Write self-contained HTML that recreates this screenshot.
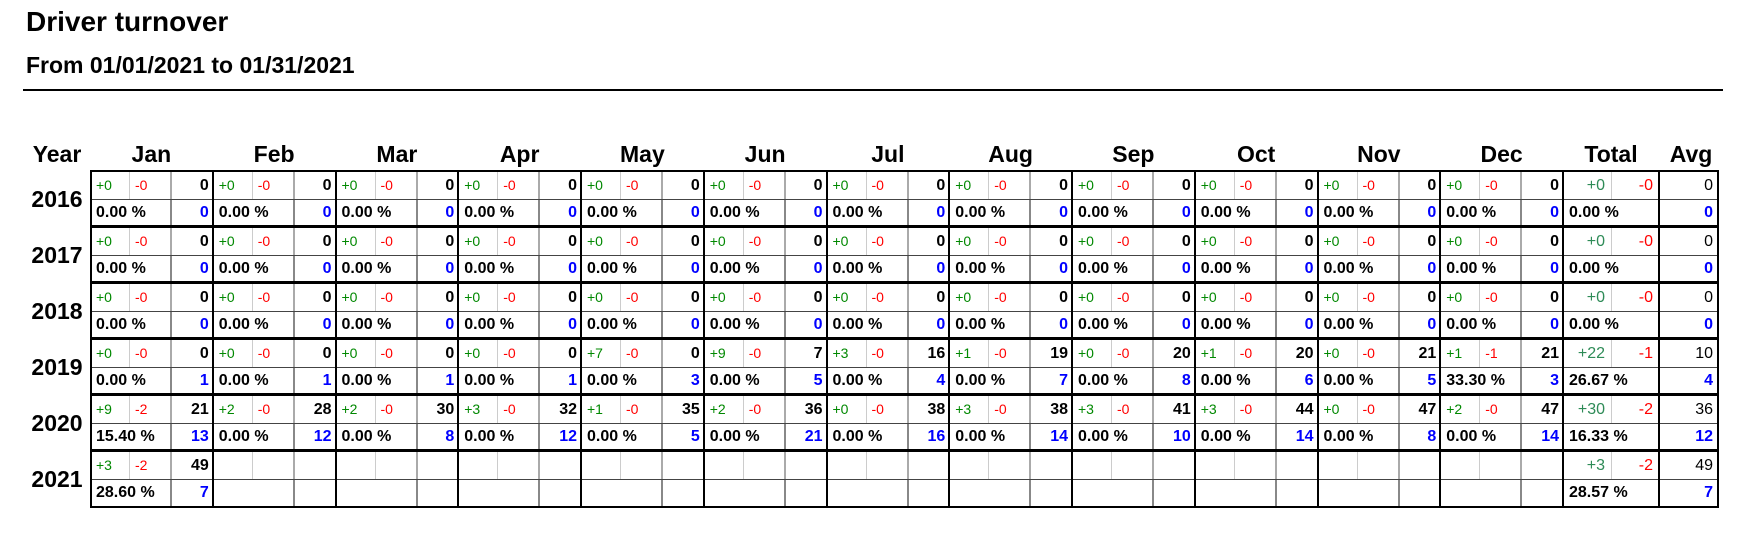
<!DOCTYPE html>
<html><head><meta charset="utf-8"><style>
*{margin:0;padding:0;box-sizing:border-box}
html,body{width:1740px;height:534px;background:#fff;overflow:hidden}
body{position:relative;font-family:"Liberation Sans",Arial,sans-serif;color:#000}
.ttl{position:absolute;left:26px;top:6px;font-size:28px;font-weight:bold;line-height:32px;white-space:nowrap}
.sub{position:absolute;left:26px;top:51px;font-size:23px;font-weight:bold;line-height:28px;white-space:nowrap}
.rule{position:absolute;left:23px;top:89px;width:1700px;height:2px;background:#000}
.h{position:absolute;top:140px;height:28px;line-height:28px;font-size:23px;font-weight:bold;text-align:center;white-space:nowrap}
.yl{position:absolute;left:24px;width:66px;height:56px;line-height:56px;font-size:23px;font-weight:bold;text-align:center}
.y{position:absolute;left:90px;height:56px;display:flex}
.m{flex:none;width:122.75px;height:56px;display:grid;grid-template-columns:40px 40px 42.75px;grid-template-rows:28px 28px}
.t{flex:none;width:96px;height:56px;display:grid;grid-template-columns:49px 47px;grid-template-rows:28px 28px}
.a{flex:none;width:58px;height:56px;display:grid;grid-template-columns:58px;grid-template-rows:28px 28px}
.y i,.y b{display:block;font-style:normal;white-space:nowrap;overflow:hidden}
.p{color:#080;font-size:14px;line-height:29px;padding-left:6px;border-right:1px solid #ccc}
.n{color:#f00;font-size:14px;line-height:29px;padding-left:5px}
.c{font-weight:bold;font-size:16px;line-height:29px;text-align:right;padding-right:4px;border-left:2px solid #aaa}
.r{grid-column:span 2;font-weight:bold;font-size:16px;line-height:28px;padding-left:6px}
.b{color:#00f;font-weight:bold;font-size:16px;line-height:28px;text-align:right;padding-right:4px;border-left:2px solid #888}
.tp{color:#2e8b57;font-size:16px;line-height:29px;text-align:right;padding-right:6px;border-right:1px solid #ccc}
.tn{color:#f00;font-size:16px;line-height:29px;text-align:right;padding-right:6px}
.tr{grid-column:span 2;font-weight:bold;font-size:16px;line-height:28px;padding-left:6px}
.av{font-size:16px;line-height:29px;text-align:right;padding-right:4px}
.ab{color:#00f;font-weight:bold;font-size:16px;line-height:28px;text-align:right;padding-right:4px}
.hl{position:absolute;left:90px;width:1629px;background:#000}
.ml{position:absolute;left:90px;width:1629px;height:1px;background:#444}
.vl{position:absolute;top:170px;height:338px;width:2px;background:#000}
</style></head><body>
<div class="ttl">Driver turnover</div>
<div class="sub">From 01/01/2021 to 01/31/2021</div>
<div class="rule"></div>

<div class="h" style="left:24px;width:66px">Year</div>
<div class="h" style="left:90px;width:122.75px">Jan</div>
<div class="h" style="left:212.75px;width:122.75px">Feb</div>
<div class="h" style="left:335.5px;width:122.75px">Mar</div>
<div class="h" style="left:458.25px;width:122.75px">Apr</div>
<div class="h" style="left:581px;width:122.75px">May</div>
<div class="h" style="left:703.75px;width:122.75px">Jun</div>
<div class="h" style="left:826.5px;width:122.75px">Jul</div>
<div class="h" style="left:949.25px;width:122.75px">Aug</div>
<div class="h" style="left:1072px;width:122.75px">Sep</div>
<div class="h" style="left:1194.75px;width:122.75px">Oct</div>
<div class="h" style="left:1317.5px;width:122.75px">Nov</div>
<div class="h" style="left:1440.25px;width:122.75px">Dec</div>
<div class="h" style="left:1563px;width:96px">Total</div>
<div class="h" style="left:1662px;width:58px">Avg</div>

<div class="yl" style="top:171px">2016</div>
<div class="yl" style="top:227px">2017</div>
<div class="yl" style="top:283px">2018</div>
<div class="yl" style="top:339px">2019</div>
<div class="yl" style="top:395px">2020</div>
<div class="yl" style="top:451px">2021</div>

<!-- 2016 -->
<div class="y" style="top:171px">
<div class="m"><i class="p">+0</i><i class="n">-0</i><b class="c">0</b><b class="r">0.00 %</b><b class="b">0</b></div>
<div class="m"><i class="p">+0</i><i class="n">-0</i><b class="c">0</b><b class="r">0.00 %</b><b class="b">0</b></div>
<div class="m"><i class="p">+0</i><i class="n">-0</i><b class="c">0</b><b class="r">0.00 %</b><b class="b">0</b></div>
<div class="m"><i class="p">+0</i><i class="n">-0</i><b class="c">0</b><b class="r">0.00 %</b><b class="b">0</b></div>
<div class="m"><i class="p">+0</i><i class="n">-0</i><b class="c">0</b><b class="r">0.00 %</b><b class="b">0</b></div>
<div class="m"><i class="p">+0</i><i class="n">-0</i><b class="c">0</b><b class="r">0.00 %</b><b class="b">0</b></div>
<div class="m"><i class="p">+0</i><i class="n">-0</i><b class="c">0</b><b class="r">0.00 %</b><b class="b">0</b></div>
<div class="m"><i class="p">+0</i><i class="n">-0</i><b class="c">0</b><b class="r">0.00 %</b><b class="b">0</b></div>
<div class="m"><i class="p">+0</i><i class="n">-0</i><b class="c">0</b><b class="r">0.00 %</b><b class="b">0</b></div>
<div class="m"><i class="p">+0</i><i class="n">-0</i><b class="c">0</b><b class="r">0.00 %</b><b class="b">0</b></div>
<div class="m"><i class="p">+0</i><i class="n">-0</i><b class="c">0</b><b class="r">0.00 %</b><b class="b">0</b></div>
<div class="m"><i class="p">+0</i><i class="n">-0</i><b class="c">0</b><b class="r">0.00 %</b><b class="b">0</b></div>
<div class="t"><i class="tp">+0</i><i class="tn">-0</i><b class="tr">0.00 %</b></div>
<div class="a"><i class="av">0</i><b class="ab">0</b></div>
</div>

<!-- 2017 -->
<div class="y" style="top:227px">
<div class="m"><i class="p">+0</i><i class="n">-0</i><b class="c">0</b><b class="r">0.00 %</b><b class="b">0</b></div>
<div class="m"><i class="p">+0</i><i class="n">-0</i><b class="c">0</b><b class="r">0.00 %</b><b class="b">0</b></div>
<div class="m"><i class="p">+0</i><i class="n">-0</i><b class="c">0</b><b class="r">0.00 %</b><b class="b">0</b></div>
<div class="m"><i class="p">+0</i><i class="n">-0</i><b class="c">0</b><b class="r">0.00 %</b><b class="b">0</b></div>
<div class="m"><i class="p">+0</i><i class="n">-0</i><b class="c">0</b><b class="r">0.00 %</b><b class="b">0</b></div>
<div class="m"><i class="p">+0</i><i class="n">-0</i><b class="c">0</b><b class="r">0.00 %</b><b class="b">0</b></div>
<div class="m"><i class="p">+0</i><i class="n">-0</i><b class="c">0</b><b class="r">0.00 %</b><b class="b">0</b></div>
<div class="m"><i class="p">+0</i><i class="n">-0</i><b class="c">0</b><b class="r">0.00 %</b><b class="b">0</b></div>
<div class="m"><i class="p">+0</i><i class="n">-0</i><b class="c">0</b><b class="r">0.00 %</b><b class="b">0</b></div>
<div class="m"><i class="p">+0</i><i class="n">-0</i><b class="c">0</b><b class="r">0.00 %</b><b class="b">0</b></div>
<div class="m"><i class="p">+0</i><i class="n">-0</i><b class="c">0</b><b class="r">0.00 %</b><b class="b">0</b></div>
<div class="m"><i class="p">+0</i><i class="n">-0</i><b class="c">0</b><b class="r">0.00 %</b><b class="b">0</b></div>
<div class="t"><i class="tp">+0</i><i class="tn">-0</i><b class="tr">0.00 %</b></div>
<div class="a"><i class="av">0</i><b class="ab">0</b></div>
</div>

<!-- 2018 -->
<div class="y" style="top:283px">
<div class="m"><i class="p">+0</i><i class="n">-0</i><b class="c">0</b><b class="r">0.00 %</b><b class="b">0</b></div>
<div class="m"><i class="p">+0</i><i class="n">-0</i><b class="c">0</b><b class="r">0.00 %</b><b class="b">0</b></div>
<div class="m"><i class="p">+0</i><i class="n">-0</i><b class="c">0</b><b class="r">0.00 %</b><b class="b">0</b></div>
<div class="m"><i class="p">+0</i><i class="n">-0</i><b class="c">0</b><b class="r">0.00 %</b><b class="b">0</b></div>
<div class="m"><i class="p">+0</i><i class="n">-0</i><b class="c">0</b><b class="r">0.00 %</b><b class="b">0</b></div>
<div class="m"><i class="p">+0</i><i class="n">-0</i><b class="c">0</b><b class="r">0.00 %</b><b class="b">0</b></div>
<div class="m"><i class="p">+0</i><i class="n">-0</i><b class="c">0</b><b class="r">0.00 %</b><b class="b">0</b></div>
<div class="m"><i class="p">+0</i><i class="n">-0</i><b class="c">0</b><b class="r">0.00 %</b><b class="b">0</b></div>
<div class="m"><i class="p">+0</i><i class="n">-0</i><b class="c">0</b><b class="r">0.00 %</b><b class="b">0</b></div>
<div class="m"><i class="p">+0</i><i class="n">-0</i><b class="c">0</b><b class="r">0.00 %</b><b class="b">0</b></div>
<div class="m"><i class="p">+0</i><i class="n">-0</i><b class="c">0</b><b class="r">0.00 %</b><b class="b">0</b></div>
<div class="m"><i class="p">+0</i><i class="n">-0</i><b class="c">0</b><b class="r">0.00 %</b><b class="b">0</b></div>
<div class="t"><i class="tp">+0</i><i class="tn">-0</i><b class="tr">0.00 %</b></div>
<div class="a"><i class="av">0</i><b class="ab">0</b></div>
</div>

<!-- 2019 -->
<div class="y" style="top:339px">
<div class="m"><i class="p">+0</i><i class="n">-0</i><b class="c">0</b><b class="r">0.00 %</b><b class="b">1</b></div>
<div class="m"><i class="p">+0</i><i class="n">-0</i><b class="c">0</b><b class="r">0.00 %</b><b class="b">1</b></div>
<div class="m"><i class="p">+0</i><i class="n">-0</i><b class="c">0</b><b class="r">0.00 %</b><b class="b">1</b></div>
<div class="m"><i class="p">+0</i><i class="n">-0</i><b class="c">0</b><b class="r">0.00 %</b><b class="b">1</b></div>
<div class="m"><i class="p">+7</i><i class="n">-0</i><b class="c">0</b><b class="r">0.00 %</b><b class="b">3</b></div>
<div class="m"><i class="p">+9</i><i class="n">-0</i><b class="c">7</b><b class="r">0.00 %</b><b class="b">5</b></div>
<div class="m"><i class="p">+3</i><i class="n">-0</i><b class="c">16</b><b class="r">0.00 %</b><b class="b">4</b></div>
<div class="m"><i class="p">+1</i><i class="n">-0</i><b class="c">19</b><b class="r">0.00 %</b><b class="b">7</b></div>
<div class="m"><i class="p">+0</i><i class="n">-0</i><b class="c">20</b><b class="r">0.00 %</b><b class="b">8</b></div>
<div class="m"><i class="p">+1</i><i class="n">-0</i><b class="c">20</b><b class="r">0.00 %</b><b class="b">6</b></div>
<div class="m"><i class="p">+0</i><i class="n">-0</i><b class="c">21</b><b class="r">0.00 %</b><b class="b">5</b></div>
<div class="m"><i class="p">+1</i><i class="n">-1</i><b class="c">21</b><b class="r">33.30 %</b><b class="b">3</b></div>
<div class="t"><i class="tp">+22</i><i class="tn">-1</i><b class="tr">26.67 %</b></div>
<div class="a"><i class="av">10</i><b class="ab">4</b></div>
</div>

<!-- 2020 -->
<div class="y" style="top:395px">
<div class="m"><i class="p">+9</i><i class="n">-2</i><b class="c">21</b><b class="r">15.40 %</b><b class="b">13</b></div>
<div class="m"><i class="p">+2</i><i class="n">-0</i><b class="c">28</b><b class="r">0.00 %</b><b class="b">12</b></div>
<div class="m"><i class="p">+2</i><i class="n">-0</i><b class="c">30</b><b class="r">0.00 %</b><b class="b">8</b></div>
<div class="m"><i class="p">+3</i><i class="n">-0</i><b class="c">32</b><b class="r">0.00 %</b><b class="b">12</b></div>
<div class="m"><i class="p">+1</i><i class="n">-0</i><b class="c">35</b><b class="r">0.00 %</b><b class="b">5</b></div>
<div class="m"><i class="p">+2</i><i class="n">-0</i><b class="c">36</b><b class="r">0.00 %</b><b class="b">21</b></div>
<div class="m"><i class="p">+0</i><i class="n">-0</i><b class="c">38</b><b class="r">0.00 %</b><b class="b">16</b></div>
<div class="m"><i class="p">+3</i><i class="n">-0</i><b class="c">38</b><b class="r">0.00 %</b><b class="b">14</b></div>
<div class="m"><i class="p">+3</i><i class="n">-0</i><b class="c">41</b><b class="r">0.00 %</b><b class="b">10</b></div>
<div class="m"><i class="p">+3</i><i class="n">-0</i><b class="c">44</b><b class="r">0.00 %</b><b class="b">14</b></div>
<div class="m"><i class="p">+0</i><i class="n">-0</i><b class="c">47</b><b class="r">0.00 %</b><b class="b">8</b></div>
<div class="m"><i class="p">+2</i><i class="n">-0</i><b class="c">47</b><b class="r">0.00 %</b><b class="b">14</b></div>
<div class="t"><i class="tp">+30</i><i class="tn">-2</i><b class="tr">16.33 %</b></div>
<div class="a"><i class="av">36</i><b class="ab">12</b></div>
</div>

<!-- 2021 -->
<div class="y" style="top:451px">
<div class="m"><i class="p">+3</i><i class="n">-2</i><b class="c">49</b><b class="r">28.60 %</b><b class="b">7</b></div>
<div class="m"><i class="p"></i><i class="n"></i><b class="c"></b><b class="r"></b><b class="b"></b></div>
<div class="m"><i class="p"></i><i class="n"></i><b class="c"></b><b class="r"></b><b class="b"></b></div>
<div class="m"><i class="p"></i><i class="n"></i><b class="c"></b><b class="r"></b><b class="b"></b></div>
<div class="m"><i class="p"></i><i class="n"></i><b class="c"></b><b class="r"></b><b class="b"></b></div>
<div class="m"><i class="p"></i><i class="n"></i><b class="c"></b><b class="r"></b><b class="b"></b></div>
<div class="m"><i class="p"></i><i class="n"></i><b class="c"></b><b class="r"></b><b class="b"></b></div>
<div class="m"><i class="p"></i><i class="n"></i><b class="c"></b><b class="r"></b><b class="b"></b></div>
<div class="m"><i class="p"></i><i class="n"></i><b class="c"></b><b class="r"></b><b class="b"></b></div>
<div class="m"><i class="p"></i><i class="n"></i><b class="c"></b><b class="r"></b><b class="b"></b></div>
<div class="m"><i class="p"></i><i class="n"></i><b class="c"></b><b class="r"></b><b class="b"></b></div>
<div class="m"><i class="p"></i><i class="n"></i><b class="c"></b><b class="r"></b><b class="b"></b></div>
<div class="t"><i class="tp">+3</i><i class="tn">-2</i><b class="tr">28.57 %</b></div>
<div class="a"><i class="av">49</i><b class="ab">7</b></div>
</div>

<!-- mid-year lines -->
<div class="ml" style="top:199px"></div>
<div class="ml" style="top:255px"></div>
<div class="ml" style="top:311px"></div>
<div class="ml" style="top:367px"></div>
<div class="ml" style="top:423px"></div>
<div class="ml" style="top:479px"></div>

<!-- year lines -->
<div class="hl" style="top:170px;height:2px"></div>
<div class="hl" style="top:225px;height:3px"></div>
<div class="hl" style="top:281px;height:3px"></div>
<div class="hl" style="top:337px;height:3px"></div>
<div class="hl" style="top:393px;height:3px"></div>
<div class="hl" style="top:449px;height:3px"></div>
<div class="hl" style="top:506px;height:2px"></div>

<!-- vertical lines -->
<div class="vl" style="left:90px"></div>
<div class="vl" style="left:212px"></div>
<div class="vl" style="left:335px"></div>
<div class="vl" style="left:457px"></div>
<div class="vl" style="left:580px"></div>
<div class="vl" style="left:703px"></div>
<div class="vl" style="left:826px"></div>
<div class="vl" style="left:948px"></div>
<div class="vl" style="left:1071px"></div>
<div class="vl" style="left:1194px"></div>
<div class="vl" style="left:1317px"></div>
<div class="vl" style="left:1439px"></div>
<div class="vl" style="left:1562px"></div>
<div class="vl" style="left:1658px"></div>
<div class="vl" style="left:1717px"></div>
</body></html>
